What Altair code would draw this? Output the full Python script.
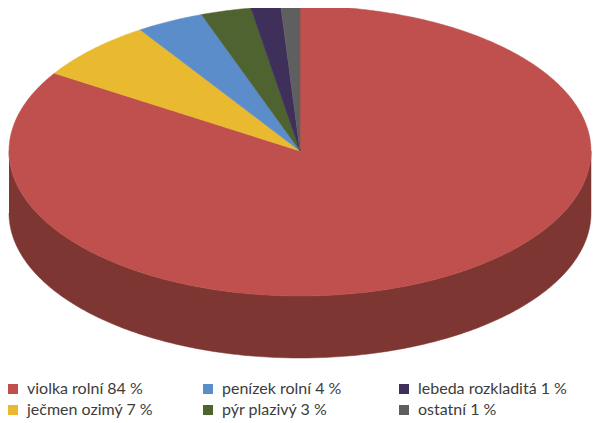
import numpy as np
import pandas as pd
import altair as alt

labels = ["violka rolní 84 %", "ječmen ozimý 7 %", "penízek rolní 4 %", "pýr plazivý 3 %", "lebeda rozkladitá 1 %", "ostatní 1 %"]
shares = [84.0, 6.75, 3.75, 2.8, 1.65, 1.05]
colors = ["#c0504d", "#e9b92f", "#5b8dcb", "#4f6331", "#3e2f5b", "#5f5f5f"]
wall_color = "#7d3632"
depth_share = 0.4276  # thickness of the pie, as a share of its vertical radius

rows = []
start = 0.0
for label, share in zip(labels, shares):
    n = max(int(share * 6), 8)
    order = 0
    rows.append({"label": label, "order": order, "px": 0.0, "py": 0.0})
    for frac in np.linspace(start, start + share, n):
        order += 1
        a = 2 * np.pi * frac / 100
        rows.append({"label": label, "order": order, "px": float(np.sin(a)), "py": float(np.cos(a))})
    rows.append({"label": label, "order": order + 1, "px": 0.0, "py": 0.0})
    start += share
slices = pd.DataFrame(rows)

w = np.linspace(np.pi, 2 * np.pi, 240)
wall = pd.DataFrame({
    "px": np.concatenate([np.cos(w), np.cos(w)[::-1]]),
    "py": np.concatenate([np.sin(w), np.sin(w)[::-1] - depth_share]),
    "order": np.arange(480),
})

xs = alt.Scale(domain=[-1, 1], range=[1, 583])
ys = alt.Scale(domain=[-1, 1], range=[288, -2])
x = alt.X("px:Q", scale=xs, axis=None)
y = alt.Y("py:Q", scale=ys, axis=None)

wall_layer = alt.Chart(wall).mark_line(fill=wall_color, stroke=wall_color, strokeWidth=0.5).encode(
    x=x, y=y, order=alt.Order("order:Q")
)


def pie_part(names, cols, legend_x, columns):
    legend = alt.Legend(
        title=None, orient="none", legendX=legend_x, legendY=373, columns=columns, direction="vertical",
        symbolType="square", symbolSize=100, symbolStrokeWidth=0,
        labelFont="Lato", labelFontSize=16, labelColor="#3c3c3c", labelLimit=300,
        columnPadding=46, rowPadding=5, symbolOffset=0, labelOffset=6, padding=0,
    )
    scale = alt.Scale(domain=names, range=cols)
    return alt.Chart(slices[slices["label"].isin(names)]).mark_line(strokeWidth=0.5, interpolate="linear").encode(
        x=x, y=y,
        fill=alt.Fill("label:N", scale=scale, legend=legend, sort=names),
        stroke=alt.Stroke("label:N", scale=scale, legend=None),
        order=alt.Order("order:Q"),
    )


chart = alt.layer(
    wall_layer,
    pie_part(labels[:4], colors[:4], -3, 2),
    pie_part(labels[4:], colors[4:], 388, 1),
).resolve_scale(fill="independent", stroke="independent").properties(
    width=584, height=415, padding=0, autosize=alt.AutoSizeParams(type="none"), background="white"
).configure_view(stroke=None)

chart.save("out.html", embed_options={"renderer": "svg", "actions": False})
